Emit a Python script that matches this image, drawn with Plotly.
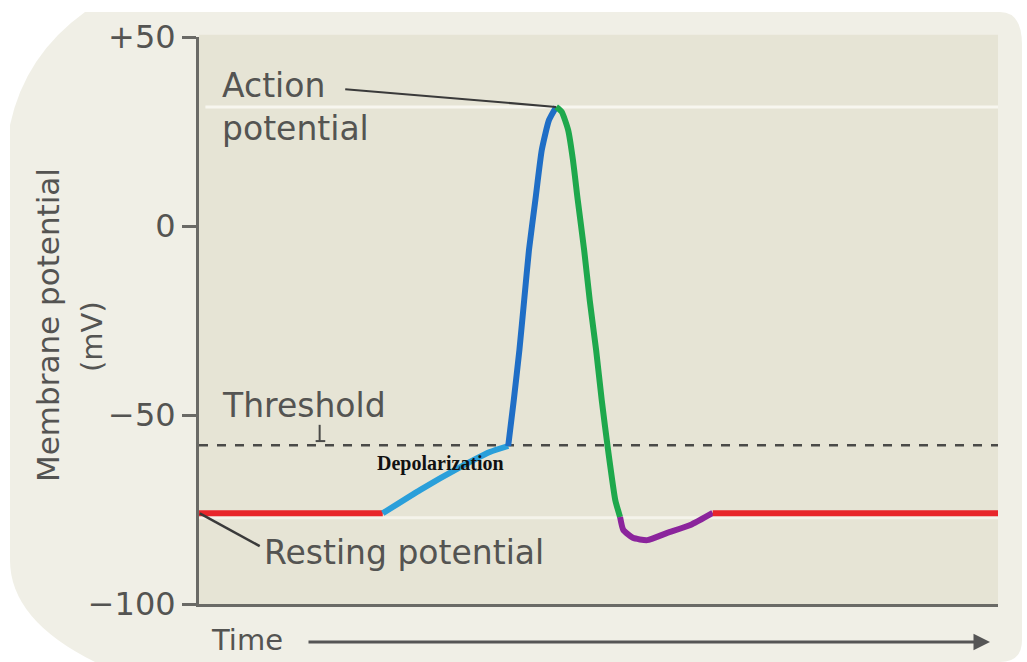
import plotly.graph_objects as go

# ---- data (time in arbitrary units 0-100, membrane potential in mV) ----
time_rest1 = [0, 23.0]
v_rest1 = [-76, -76]
time_depol = [23.0, 27.7, 32.7, 36.4, 38.7]
v_depol = [-76, -69.8, -63.8, -59.8, -58.2]
time_rise = [38.7, 39.4, 40.1, 40.7, 41.3, 42.1, 42.9, 43.8, 44.7]
v_rise = [-58.2, -46.0, -32.8, -19.6, -6.3, 6.9, 20.1, 28.0, 31.5]
time_fall = [44.7, 45.4, 46.2, 46.8, 47.4, 48.2, 48.9, 49.7, 50.4, 51.2, 52.1, 52.7]
v_fall = [31.5, 30.2, 25.4, 17.5, 6.9, -6.3, -19.6, -32.8, -46.0, -59.3, -72.5, -77.0]
time_ahp = [52.7, 53.1, 54.3, 56.1, 58.6, 61.5, 64.3]
v_ahp = [-77.0, -80.4, -82.5, -83.1, -81.2, -79.1, -75.9]
time_rest2 = [64.3, 100]
v_rest2 = [-76, -76]
threshold = -58
tick_vals = [50, 0, -50, -100]
tick_text = ["+50", "0", "\u221250", "\u2212100"]

FONT = "DejaVu Sans"
GRAY = "#545452"
AXC = "#6a6a66"

W, H = 1027, 662
L, R, T, B = 199, 29, 37, 58
PW, PH = W - L - R, H - T - B


def px(x):
    return (x - L) / PW


def py(y):
    return (H - B - y) / PH


fig = go.Figure()

segments = [
    (time_rest1, v_rest1, "#e8262b", "linear"),
    (time_depol, v_depol, "#2a9fda", "spline"),
    (time_rise, v_rise, "#1f6ec6", "spline"),
    (time_fall, v_fall, "#1ea84c", "spline"),
    (time_ahp, v_ahp, "#8b249c", "spline"),
    (time_rest2, v_rest2, "#e8262b", "linear"),
]
for t, v, c, s in segments:
    fig.add_trace(go.Scatter(x=t, y=v, mode="lines",
                             line=dict(color=c, width=6, shape=s, smoothing=0.5),
                             hoverinfo="skip", showlegend=False))

peak_t = time_rise[-1]
peak_v = max(v_rise)
rest_v = v_rest1[0]

# panel path (paper coords)
panel = (f"M {px(85)} {py(12)} L {px(1000)} {py(12)} Q {px(1022)} {py(12)} {px(1022)} {py(45)} "
         f"L {px(1022)} {py(640)} Q {px(1022)} {py(662)} {px(1000)} {py(662)} "
         f"L {px(95)} {py(662)} Q {px(10)} {py(620)} {px(10)} {py(560)} "
         f"L {px(10)} {py(125)} Q {px(25)} {py(55)} {px(85)} {py(12)} Z")

shapes = [
    dict(type="path", path=panel, xref="paper", yref="paper", layer="below",
         fillcolor="#f0efe6", line=dict(width=0)),
    dict(type="rect", xref="paper", yref="paper", x0=0, x1=1, y0=0, y1=1.004, layer="below",
         fillcolor="#e6e4d5", line=dict(width=0)),
    dict(type="line", xref="x", yref="y", x0=0.8, x1=100, y0=peak_v, y1=peak_v, layer="below",
         line=dict(color="#f7f6ef", width=3)),
    dict(type="line", xref="x", yref="y", x0=0, x1=100, y0=rest_v - 1.2, y1=rest_v - 1.2, layer="below",
         line=dict(color="#f4f3ea", width=3)),
    dict(type="line", xref="x", yref="y", x0=0, x1=100, y0=threshold, y1=threshold, layer="below",
         line=dict(color="#4a4a48", width=2.5, dash="dash")),
    # connector for "Action potential"
    dict(type="line", xref="x", yref="y", x0=18.3, y0=36.2, x1=peak_t, y1=peak_v,
         line=dict(color="#3a3a3a", width=2)),
    # connector for "Resting potential"
    dict(type="line", xref="x", yref="y", x0=0.1, y0=rest_v, x1=7.6, y1=-84.7,
         line=dict(color="#3a3a3a", width=2.5)),
    # small threshold marker
    dict(type="line", xref="x", yref="y", x0=15.1, x1=15.1, y0=-52.6, y1=-56.9,
         line=dict(color="#4a4a48", width=2)),
    dict(type="line", xref="x", yref="y", x0=14.6, x1=15.8, y0=-56.9, y1=-56.9,
         line=dict(color="#4a4a48", width=2)),
]

annotations = [
    dict(x=2.6, y=31.6, xref="x", yref="y", text="Action<br>potential", showarrow=False,
         xanchor="left", yanchor="middle", align="left",
         font=dict(family=FONT, size=33, color=GRAY)),
    dict(x=2.6, y=-47.4, xref="x", yref="y", text="Threshold", showarrow=False,
         xanchor="left", yanchor="middle", font=dict(family=FONT, size=33, color=GRAY)),
    dict(x=30.2, y=-62.7, xref="x", yref="y", text="<b>Depolarization</b>", showarrow=False,
         xanchor="center", yanchor="middle",
         font=dict(family="Liberation Serif", size=20, color="#111111")),
    dict(x=7.9, y=-86.5, xref="x", yref="y", text="Resting potential", showarrow=False,
         xanchor="left", yanchor="middle", font=dict(family=FONT, size=33, color=GRAY)),
    dict(x=px(247), y=py(640), xref="paper", yref="paper", text="Time", showarrow=False,
         xanchor="center", yanchor="middle", font=dict(family=FONT, size=29, color=GRAY)),
    dict(x=px(990), y=py(642), xref="paper", yref="paper", text="", showarrow=True,
         ax=-(990 - 307), ay=0, arrowhead=2, arrowsize=1.1, arrowwidth=3, arrowcolor="#555555"),
    dict(x=px(48), y=py(325), xref="paper", yref="paper", text="Membrane potential",
         showarrow=False, textangle=-90, xanchor="center", yanchor="middle",
         font=dict(family=FONT, size=31, color=GRAY)),
    dict(x=px(92), y=py(337), xref="paper", yref="paper", text="(mV)",
         showarrow=False, textangle=-90, xanchor="center", yanchor="middle",
         font=dict(family=FONT, size=29, color=GRAY)),
]

fig.update_layout(
    width=W, height=H,
    margin=dict(l=L, r=R, t=T, b=B, pad=0),
    paper_bgcolor="white",
    plot_bgcolor="rgba(0,0,0,0)",
    shapes=shapes,
    annotations=annotations,
    showlegend=False,
    xaxis=dict(range=[0, 100], showgrid=False, zeroline=False, showticklabels=False,
               ticks="", showline=True, linecolor=AXC, linewidth=3, fixedrange=True),
    yaxis=dict(range=[-100, 50], showgrid=False, zeroline=False, tickmode="array",
               tickvals=tick_vals, ticktext=tick_text, ticks="outside", ticklen=14,
               tickwidth=3, tickcolor=AXC, showline=True, linecolor=AXC, linewidth=3,
               tickfont=dict(family=FONT, size=32, color=GRAY), fixedrange=True),
)

fig.write_html("out.html", config={"displayModeBar": False},
               post_script="document.body.style.margin='0';document.body.style.overflow='hidden';")
